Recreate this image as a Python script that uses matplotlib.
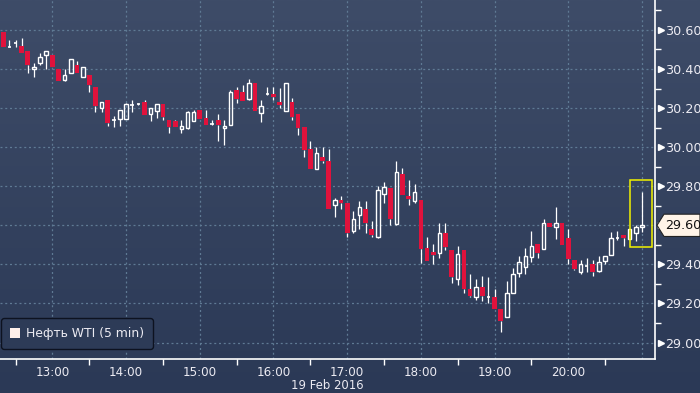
import numpy as np
import pandas as pd
import matplotlib
matplotlib.use("Agg")
import matplotlib.pyplot as plt
from matplotlib.patches import Patch, Polygon, Rectangle
from matplotlib.transforms import blended_transform_factory
from matplotlib.colors import LinearSegmentedColormap

plt.rcParams['font.family'] = ['DejaVu Sans']

# ---------------- data (5-min candles, 19 Feb 2016) ----------------
start_time = "2016-02-19 12:20"
opens = [30.59, 30.51, 30.53, 30.52, 30.49, 30.40, 30.43, 30.47, 30.47, 30.40,
         30.345, 30.38, 30.42, 30.36, 30.37, 30.31, 30.20, 30.24, 30.137, 30.146,
         30.143, 30.215, 30.22, 30.23, 30.17, 30.187, 30.221, 30.14, 30.133, 30.092,
         30.10, 30.136, 30.19, 30.149, 30.119, 30.139, 30.098, 30.115, 30.293, 30.282,
         30.245, 30.327, 30.177, 30.271, 30.272, 30.231, 30.187, 30.231, 30.17, 30.102,
         29.989, 29.89, 29.948, 29.928, 29.703, 29.73, 29.713, 29.57, 29.652, 29.682,
         29.58, 29.542, 29.76, 29.791, 29.607, 29.863, 29.75, 29.726, 29.73, 29.484,
         29.464, 29.46, 29.559, 29.474, 29.324, 29.474, 29.273, 29.232, 29.283, 29.231,
         29.232, 29.17, 29.133, 29.252, 29.358, 29.388, 29.44, 29.505, 29.48, 29.61,
         29.59, 29.61, 29.535, 29.423, 29.363, 29.389, 29.402, 29.368, 29.42, 29.45,
         29.532, 29.549, 29.532, 29.56, 29.591]
highs = [30.59, 30.55, 30.55, 30.56, 30.49, 30.43, 30.48, 30.49, 30.47, 30.40,
         30.40, 30.45, 30.44, 30.41, 30.37, 30.31, 30.23, 30.24, 30.16, 30.19,
         30.226, 30.241, 30.227, 30.241, 30.20, 30.221, 30.221, 30.14, 30.139, 30.139,
         30.187, 30.19, 30.19, 30.19, 30.139, 30.17, 30.139, 30.293, 30.31, 30.32,
         30.351, 30.327, 30.242, 30.306, 30.306, 30.303, 30.327, 30.252, 30.17, 30.102,
         30.03, 30.0, 30.0, 29.989, 29.74, 29.75, 29.713, 29.672, 29.726, 29.726,
         29.62, 29.801, 29.822, 29.791, 29.928, 29.894, 29.832, 29.812, 29.73, 29.539,
         29.505, 29.614, 29.614, 29.474, 29.494, 29.474, 29.351, 29.324, 29.341, 29.334,
         29.276, 29.17, 29.314, 29.382, 29.443, 29.484, 29.573, 29.505, 29.634, 29.61,
         29.695, 29.61, 29.58, 29.423, 29.423, 29.433, 29.423, 29.443, 29.443, 29.566,
         29.573, 29.549, 29.583, 29.601, 29.77]
lows = [30.51, 30.51, 30.51, 30.48, 30.38, 30.36, 30.42, 30.40, 30.41, 30.34,
        30.34, 30.38, 30.38, 30.36, 30.28, 30.18, 30.18, 30.11, 30.105, 30.108,
        30.143, 30.18, 30.214, 30.166, 30.133, 30.15, 30.14, 30.074, 30.102, 30.074,
        30.095, 30.136, 30.143, 30.115, 30.112, 30.033, 30.013, 30.115, 30.225, 30.238,
        30.242, 30.187, 30.129, 30.265, 30.242, 30.20, 30.187, 30.139, 30.064, 29.951,
        29.89, 29.89, 29.918, 29.682, 29.644, 29.685, 29.542, 29.559, 29.583, 29.562,
        29.542, 29.535, 29.716, 29.603, 29.603, 29.757, 29.706, 29.716, 29.406, 29.419,
        29.402, 29.433, 29.474, 29.307, 29.293, 29.255, 29.235, 29.218, 29.214, 29.204,
        29.17, 29.054, 29.133, 29.252, 29.337, 29.351, 29.413, 29.433, 29.48, 29.59,
        29.529, 29.501, 29.402, 29.37, 29.351, 29.361, 29.341, 29.361, 29.40, 29.447,
        29.525, 29.494, 29.532, 29.518, 29.567]
closes = [30.51, 30.515, 30.535, 30.48, 30.42, 30.41, 30.46, 30.49, 30.41, 30.34,
          30.37, 30.45, 30.38, 30.41, 30.32, 30.21, 30.23, 30.125, 30.14, 30.19,
          30.221, 30.218, 30.221, 30.166, 30.20, 30.221, 30.156, 30.105, 30.102, 30.108,
          30.18, 30.18, 30.143, 30.115, 30.121, 30.115, 30.108, 30.282, 30.248, 30.238,
          30.327, 30.187, 30.211, 30.273, 30.258, 30.217, 30.327, 30.156, 30.098, 29.986,
          29.89, 29.969, 29.928, 29.682, 29.73, 29.713, 29.559, 29.631, 29.692, 29.611,
          29.549, 29.781, 29.798, 29.631, 29.873, 29.757, 29.733, 29.771, 29.48, 29.419,
          29.45, 29.559, 29.491, 29.337, 29.453, 29.273, 29.238, 29.283, 29.238, 29.233,
          29.17, 29.112, 29.252, 29.351, 29.412, 29.443, 29.494, 29.46, 29.61, 29.59,
          29.61, 29.501, 29.429, 29.378, 29.402, 29.391, 29.36, 29.412, 29.443, 29.535,
          29.535, 29.535, 29.583, 29.594, 29.601]

y_ticks = [29.0, 29.2, 29.4, 29.6, 29.8, 30.0, 30.2, 30.4, 30.6]
y_minor = [29.1, 29.3, 29.5, 29.7, 29.9, 30.1, 30.3, 30.5, 30.7]
x_hours = [13, 14, 15, 16, 17, 18, 19, 20, 21]
x_labels = ["13:00", "14:00", "15:00", "16:00", "17:00", "18:00", "19:00", "20:00", ""]
x_minor = [12.5, 13.5, 14.5, 15.5, 16.5, 17.5, 18.5, 19.5, 20.5, 21.0]
date_label = "19 Feb 2016"
series_name = "Нефть WTI (5 min)"
last_price = 29.60
highlight_range = (20.84, 21.13, 29.49, 29.83)

# ---------------- styling ----------------
RED = "#e0123c"
WHITE = "#ffffff"
GRID = "#5f7a94"
TXT = "#ecebf2"

times = pd.date_range(start_time, periods=len(opens), freq="5min")
x = np.array([t.hour + t.minute / 60 for t in times])
o = np.array(opens); h = np.array(highs); l = np.array(lows); c = np.array(closes)

W, H = 700, 393
fig = plt.figure(figsize=(W / 100, H / 100), dpi=100)

# background gradient
bg = fig.add_axes([0, 0, 1, 1], zorder=-10)
cmap = LinearSegmentedColormap.from_list("bg", ["#2b3956", "#3e4c68"])
grad = np.linspace(0, 1, 256).reshape(-1, 1)
bg.imshow(grad, aspect="auto", cmap=cmap, origin="lower", extent=[0, 1, 0, 1])
bg.set_axis_off()

ax = fig.add_axes([0, 34 / H, 655 / W, 359 / H])
ax.set_facecolor("none")
ax.set_xlim(12.289, 21.177)
ax.set_ylim(28.916, 30.753)

bw_red = 0.064
bw_hollow = 0.048
for xi, oi, hi, li, ci in zip(x, o, h, l, c):
    top, bot = max(oi, ci), min(oi, ci)
    if top - bot < 0.005:
        ax.vlines(xi, li, hi, color=WHITE, lw=0.9, zorder=3)
        ax.hlines((oi + ci) / 2, xi - bw_hollow / 2, xi + bw_hollow / 2, color=WHITE,
                  lw=1.2, zorder=3)
        continue
    if hi > top:
        ax.vlines(xi, top, hi, color=WHITE, lw=0.9, zorder=3)
    if li < bot:
        ax.vlines(xi, li, bot, color=WHITE, lw=0.9, zorder=3)
    if ci < oi:
        ax.bar(xi, top - bot, bottom=bot, width=bw_red, color=RED, edgecolor="none", zorder=4)
    else:
        ax.bar(xi, top - bot, bottom=bot, width=bw_hollow, facecolor="none",
               edgecolor=WHITE, lw=1.0, zorder=4)

# highlight rectangle
x0, x1, y0, y1 = highlight_range
ax.add_patch(Rectangle((x0, y0), x1 - x0, y1 - y0, fill=False, edgecolor="#f2f200",
                       lw=1.1, zorder=6))

# grid
ax.set_xticks(x_hours)
ax.set_xticklabels(x_labels)
ax.set_xticks(x_minor, minor=True)
ax.set_yticks(y_ticks)
ax.set_yticklabels([f"{v:.2f}" for v in y_ticks])
ax.set_yticks(y_minor, minor=True)
ax.grid(True, which="major", color=GRID, lw=0.9, linestyle=(0, (1.6, 2.2)))
ax.set_axisbelow(True)

for side in ["top", "left"]:
    ax.spines[side].set_visible(False)
for side in ["bottom", "right"]:
    ax.spines[side].set_color(WHITE)
    ax.spines[side].set_linewidth(1.2)

ax.yaxis.tick_right()
ax.tick_params(axis="y", which="major", length=0, pad=7.0, labelsize=9.2, labelcolor=TXT)
ax.tick_params(axis="y", which="minor", length=4, width=1, color=WHITE, direction="out")
ax.tick_params(axis="x", which="major", length=0, pad=5, labelsize=8.6, labelcolor=TXT)
ax.tick_params(axis="x", which="minor", length=4, width=1, color=WHITE, direction="out")

# triangle tick markers at major y levels
tr = blended_transform_factory(ax.transAxes, ax.transData)
ax.plot([1.0085] * len(y_ticks), y_ticks, linestyle="none", marker=">", markersize=5,
        color=WHITE, transform=tr, clip_on=False, zorder=7)

# last price tag
tag_h = 0.057
px = 1 / 655
poly = Polygon([(1.0 + 2 * px, last_price), (1.0 + 9 * px, last_price + tag_h),
                (1.0 + 45 * px, last_price + tag_h), (1.0 + 45 * px, last_price - tag_h),
                (1.0 + 9 * px, last_price - tag_h)], closed=True,
               facecolor="#fff4e8", edgecolor="#222222", lw=0.8, transform=tr,
               clip_on=False, zorder=20)
ax.add_patch(poly)
ax.text(1.0 + 10 * px, last_price, f"{last_price:.2f}", transform=tr, ha="left",
        va="center", fontsize=9.2, color="#111111", zorder=21, clip_on=False)

# date label
ax.text(0.5, -0.055, date_label, transform=ax.transAxes, ha="center", va="top",
        fontsize=8.4, color=TXT)

# legend
handle = Patch(facecolor="#fff0ea", edgecolor="none", label=series_name)
leg = ax.legend(handles=[handle], loc="lower left", bbox_to_anchor=(0.0, 0.025),
                frameon=True, fancybox=True, facecolor="#2d3b57", edgecolor="#0d1220",
                framealpha=1, fontsize=8.9, handlelength=0.85, handleheight=0.85,
                handletextpad=0.45, borderpad=0.7, borderaxespad=0.1)
for t in leg.get_texts():
    t.set_color(TXT)
leg.get_frame().set_linewidth(1.0)
leg.set_zorder(15)

fig.savefig("out.png", dpi=100)
